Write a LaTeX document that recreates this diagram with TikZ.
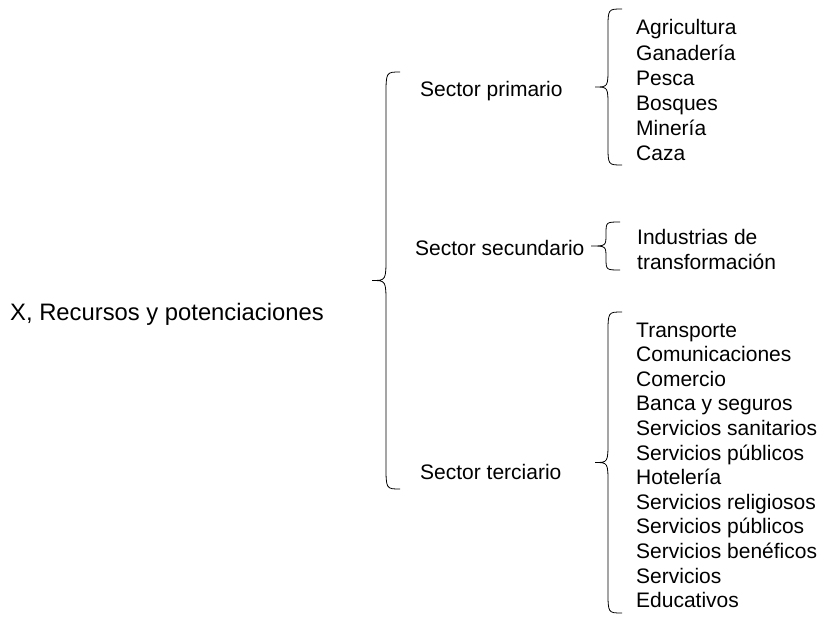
\documentclass[tikz,border=0pt]{standalone}
\usepackage{fontspec}
\setmainfont{Liberation Sans}

% a left curly brace: end x, body x, tip x, top y, bottom y, curl
\newcommand{\leftcurl}[6]{%
  \draw[brace line] (#1,#4) .. controls (#2,#4) .. (#2,{#4+#6})
    -- (#2,{(#4+#5)/2-#6}) .. controls (#2,{(#4+#5)/2}) .. (#3,{(#4+#5)/2})
    .. controls (#2,{(#4+#5)/2}) .. (#2,{(#4+#5)/2+#6})
    -- (#2,{#5-#6}) .. controls (#2,#5) .. (#1,#5);}

\begin{document}
\begin{tikzpicture}[x=1pt, y=-1pt,
  entry/.style={anchor=base west, inner sep=0pt, font=\fontsize{21}{25}\selectfont},
  headtext/.style={anchor=base west, inner sep=0pt, font=\fontsize{23.8}{28}\selectfont},
  brace line/.style={line width=0.8pt}]

\useasboundingbox (0,0) rectangle (821,618);

% the main topic
\node[headtext] (recursos) at (10,320) {X, Recursos y potenciaciones};

% the three sectors
\node[entry] (primario) at (420,96) {Sector primario};
\node[entry] (secundario) at (415,255) {Sector secundario};
\node[entry] (terciario) at (420,479) {Sector terciario};

% the big brace
\leftcurl{400}{386}{372}{72}{489}{24}

% sector primario
\leftcurl{622}{608}{595}{9}{165}{20}
\foreach \txt [count=\i] in {Agricultura,Ganadería,Pesca,Bosques,Minería,Caza}
  \node[entry] (pri\i) at (636,{10+25*\i}) {\txt};

% sector secundario
\leftcurl{620}{606}{591}{222}{270}{12}
\node[entry] (sec1) at (637,244) {Industrias de};
\node[entry] (sec2) at (637,269) {transformación};

% sector terciario
\leftcurl{622}{608}{595}{312}{613}{22}
\foreach \txt [count=\i] in {Transporte,Comunicaciones,Comercio,Banca y seguros,
  Servicios sanitarios,Servicios públicos,Hotelería,Servicios religiosos,
  Servicios públicos,Servicios benéficos,Servicios,Educativos}
  \node[entry] (ter\i) at (636,{312.4+24.6*\i}) {\txt};

\end{tikzpicture}
\end{document}
